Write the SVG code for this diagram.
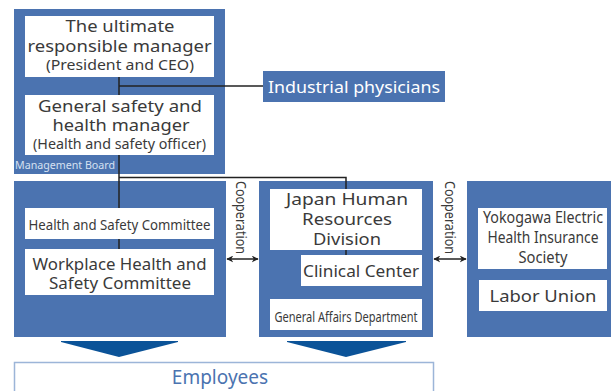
<svg xmlns="http://www.w3.org/2000/svg" width="611" height="391" viewBox="0 0 611 391">
<defs>
<style>
.panel{fill:#4b73b0}
.box{fill:#ffffff}
.t{font-family:"Noto Sans","Liberation Sans",sans-serif;fill:#3a3a3a;text-anchor:middle}
.big{font-size:17px}
.mid{font-size:14px}
.wt{fill:#ffffff}
.conn{stroke:#222;stroke-width:1.5;fill:none}
.down{fill:#0b5398}
</style>
<marker id="ah" viewBox="0 0 10 10" refX="9" refY="5" markerWidth="7" markerHeight="7" orient="auto-start-reverse" markerUnits="userSpaceOnUse">
<path d="M0,0 L10,5 L0,10 L3,5 Z" fill="#222"/>
</marker>
</defs>
<rect width="611" height="391" fill="#ffffff"/>

<g id="management-board">
<rect class="panel" x="14" y="9" width="211" height="165"/>
<text x="15" y="169" font-family="Noto Sans, sans-serif" font-size="11" fill="#d6e1f2" textLength="100" lengthAdjust="spacingAndGlyphs">Management Board</text>
</g>
<g id="left-panel"><rect class="panel" x="14" y="181" width="212" height="156"/></g>
<g id="middle-panel"><rect class="panel" x="259" y="181" width="174" height="156"/></g>
<g id="right-panel"><rect class="panel" x="467" y="181" width="150" height="156"/></g>

<g id="connectors">
<path class="conn" d="M119,77 V249"/>
<path class="conn" d="M119,86 H264"/>
<path class="conn" d="M119,177.5 H346 V189"/>
<path class="conn" d="M346,250 V256"/>
<path class="conn" d="M227,259 H258" marker-start="url(#ah)" marker-end="url(#ah)"/>
<path class="conn" d="M434,259 H466" marker-start="url(#ah)" marker-end="url(#ah)"/>
<polygon class="down" points="61,341 178,341 178,342 119,357 61,342"/>
<polygon class="down" points="287,341 406,341 406,342 346,357 287,342"/>
</g>

<g id="ultimate-manager">
<rect class="box" x="25" y="16" width="189" height="61"/>
<text class="t big" x="120" y="32" textLength="109" lengthAdjust="spacingAndGlyphs">The ultimate</text>
<text class="t big" x="119.5" y="52" textLength="184" lengthAdjust="spacingAndGlyphs">responsible manager</text>
<text class="t mid" x="120" y="70" textLength="148" lengthAdjust="spacingAndGlyphs">(President and CEO)</text>
</g>
<g id="general-manager">
<rect class="box" x="25" y="95" width="189" height="60"/>
<text class="t big" x="120" y="112" textLength="164" lengthAdjust="spacingAndGlyphs">General safety and</text>
<text class="t big" x="121" y="131" textLength="137" lengthAdjust="spacingAndGlyphs">health manager</text>
<text class="t mid" x="119.5" y="149" textLength="173" lengthAdjust="spacingAndGlyphs">(Health and safety officer)</text>
</g>
<g id="industrial-physicians">
<rect class="panel" x="263" y="71" width="182" height="31"/>
<text class="t big wt" x="354" y="93" textLength="172" lengthAdjust="spacingAndGlyphs">Industrial physicians</text>
</g>
<g id="hs-committee">
<rect class="box" x="25" y="208" width="189" height="31"/>
<text class="t" x="119.5" y="230" font-size="15" textLength="182" lengthAdjust="spacingAndGlyphs">Health and Safety Committee</text>
</g>
<g id="workplace-committee">
<rect class="box" x="25" y="249" width="189" height="46"/>
<text class="t big" x="119.5" y="270" textLength="174" lengthAdjust="spacingAndGlyphs">Workplace Health and</text>
<text class="t big" x="120" y="289" textLength="142" lengthAdjust="spacingAndGlyphs">Safety Committee</text>
</g>
<g id="japan-hr">
<rect class="box" x="270" y="189" width="152" height="61"/>
<text class="t big" x="347" y="205" textLength="122" lengthAdjust="spacingAndGlyphs">Japan Human</text>
<text class="t big" x="347" y="225" textLength="90" lengthAdjust="spacingAndGlyphs">Resources</text>
<text class="t big" x="347" y="245" textLength="68" lengthAdjust="spacingAndGlyphs">Division</text>
</g>
<g id="clinical-center">
<rect class="box" x="301" y="255" width="121" height="31"/>
<text class="t big" x="361" y="277" textLength="116" lengthAdjust="spacingAndGlyphs">Clinical Center</text>
</g>
<g id="general-affairs">
<rect class="box" x="270" y="299" width="152" height="31"/>
<text class="t" x="346" y="322" font-size="14" textLength="143" lengthAdjust="spacingAndGlyphs">General Affairs Department</text>
</g>
<g id="health-insurance">
<rect class="box" x="478" y="208" width="129" height="61"/>
<text class="t" x="543" y="223" font-size="16" textLength="120" lengthAdjust="spacingAndGlyphs">Yokogawa Electric</text>
<text class="t" x="543" y="243" font-size="16" textLength="111" lengthAdjust="spacingAndGlyphs">Health Insurance</text>
<text class="t" x="543" y="263" font-size="16" textLength="49" lengthAdjust="spacingAndGlyphs">Society</text>
</g>
<g id="labor-union">
<rect class="box" x="479" y="280" width="128" height="31"/>
<text class="t big" x="543" y="302" textLength="107" lengthAdjust="spacingAndGlyphs">Labor Union</text>
</g>

<g id="cooperation-labels">
<text class="t" font-size="15" transform="translate(236,217.5) rotate(90)" textLength="73" lengthAdjust="spacingAndGlyphs">Cooperation</text>
<text class="t" font-size="15" transform="translate(445,217.5) rotate(90)" textLength="73" lengthAdjust="spacingAndGlyphs">Cooperation</text>
</g>

<g id="employees">
<rect x="14.5" y="362.5" width="419" height="40" fill="#ffffff" stroke="#9cb5d8" stroke-width="1.5"/>
<text class="t" x="220" y="384" font-size="19" style="fill:#4b73b0">Employees</text>
</g>
</svg>
